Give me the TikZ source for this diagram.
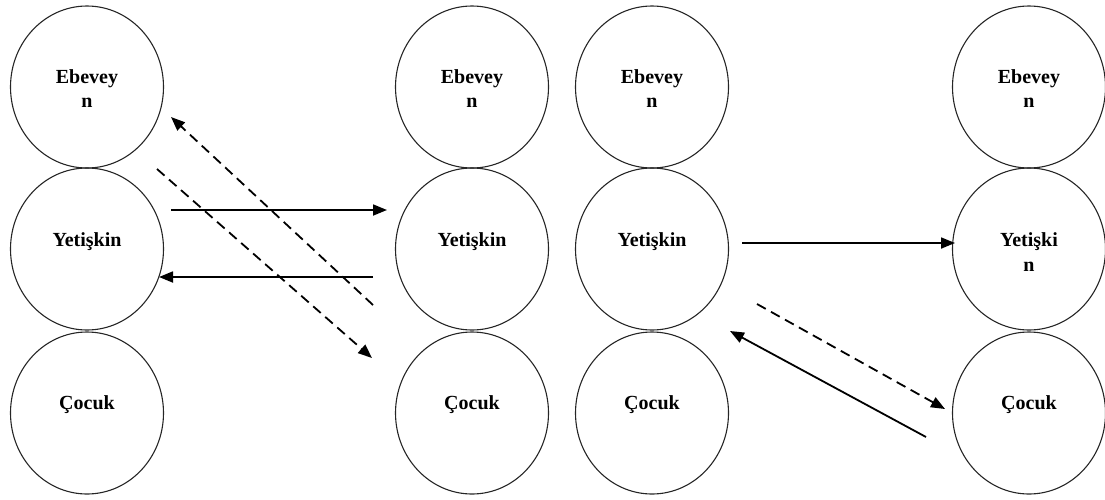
\documentclass[tikz,border=0pt]{standalone}
\usepackage{fontspec}
\setmainfont{Liberation Serif}
\usetikzlibrary{shapes.geometric,arrows.meta}
\begin{document}
\begin{tikzpicture}[x=1pt,y=-1pt,
  ring/.style={ellipse,draw=black!85,line width=1.1pt,minimum width=153pt,minimum height=162pt,inner sep=0pt},
  lbl/.style={anchor=base,inner sep=0pt,font=\bfseries\fontsize{20}{24}\selectfont},
  arr/.style={line width=1.8pt,-{Triangle[length=14pt,width=11pt]}},
  darr/.style={arr,dash pattern=on 10pt off 6pt}]
\useasboundingbox (0,0) rectangle (1105,499);
% column 1
\node[ring] (e1) at (87,87) {};
\node[ring] (y1) at (87,249) {};
\node[ring] (c1) at (87,413) {};
% column 2
\node[ring] (e2) at (472,87) {};
\node[ring] (y2) at (472,249) {};
\node[ring] (c2) at (472,413) {};
% column 3
\node[ring] (e3) at (652,87) {};
\node[ring] (y3) at (652,249) {};
\node[ring] (c3) at (652,413) {};
% column 4
\node[ring] (e4) at (1029,87) {};
\node[ring] (y4) at (1029,249) {};
\node[ring] (c4) at (1029,413) {};
% labels
\node[lbl] (te1) at (87,83) {Ebevey};
\node[lbl] (te1b) at (87,107) {n};
\node[lbl] (ty1) at (87,246) {Yetişkin};
\node[lbl] (tc1) at (87,409) {Çocuk};
\node[lbl] (te2) at (472,83) {Ebevey};
\node[lbl] (te2b) at (472,107) {n};
\node[lbl] (ty2) at (472,246) {Yetişkin};
\node[lbl] (tc2) at (472,409) {Çocuk};
\node[lbl] (te3) at (652,83) {Ebevey};
\node[lbl] (te3b) at (652,107) {n};
\node[lbl] (ty3) at (652,246) {Yetişkin};
\node[lbl] (tc3) at (652,409) {Çocuk};
\node[lbl] (te4) at (1029,83) {Ebevey};
\node[lbl] (te4b) at (1029,107) {n};
\node[lbl] (ty4) at (1029,246) {Yetişki};
\node[lbl] (ty4b) at (1029,271) {n};
\node[lbl] (tc4) at (1029,409) {Çocuk};
% connector end points
\coordinate (a1s) at (171,210); \coordinate (a1e) at (387,210);
\coordinate (a2s) at (373,277); \coordinate (a2e) at (159,277);
\coordinate (a3s) at (373,305); \coordinate (a3e) at (171,117);
\coordinate (a4s) at (157,169); \coordinate (a4e) at (372,358);
\coordinate (a5s) at (742,243); \coordinate (a5e) at (955,243);
\coordinate (a6s) at (757,304); \coordinate (a6e) at (945,409);
\coordinate (a7s) at (926,437); \coordinate (a7e) at (730,331);
% connectors
\draw[arr] (a1s) -- (a1e);
\draw[arr] (a2s) -- (a2e);
\draw[darr] (a3s) -- (a3e);
\draw[darr] (a4s) -- (a4e);
\draw[arr] (a5s) -- (a5e);
\draw[darr] (a6s) -- (a6e);
\draw[arr] (a7s) -- (a7e);
\end{tikzpicture}
\end{document}
